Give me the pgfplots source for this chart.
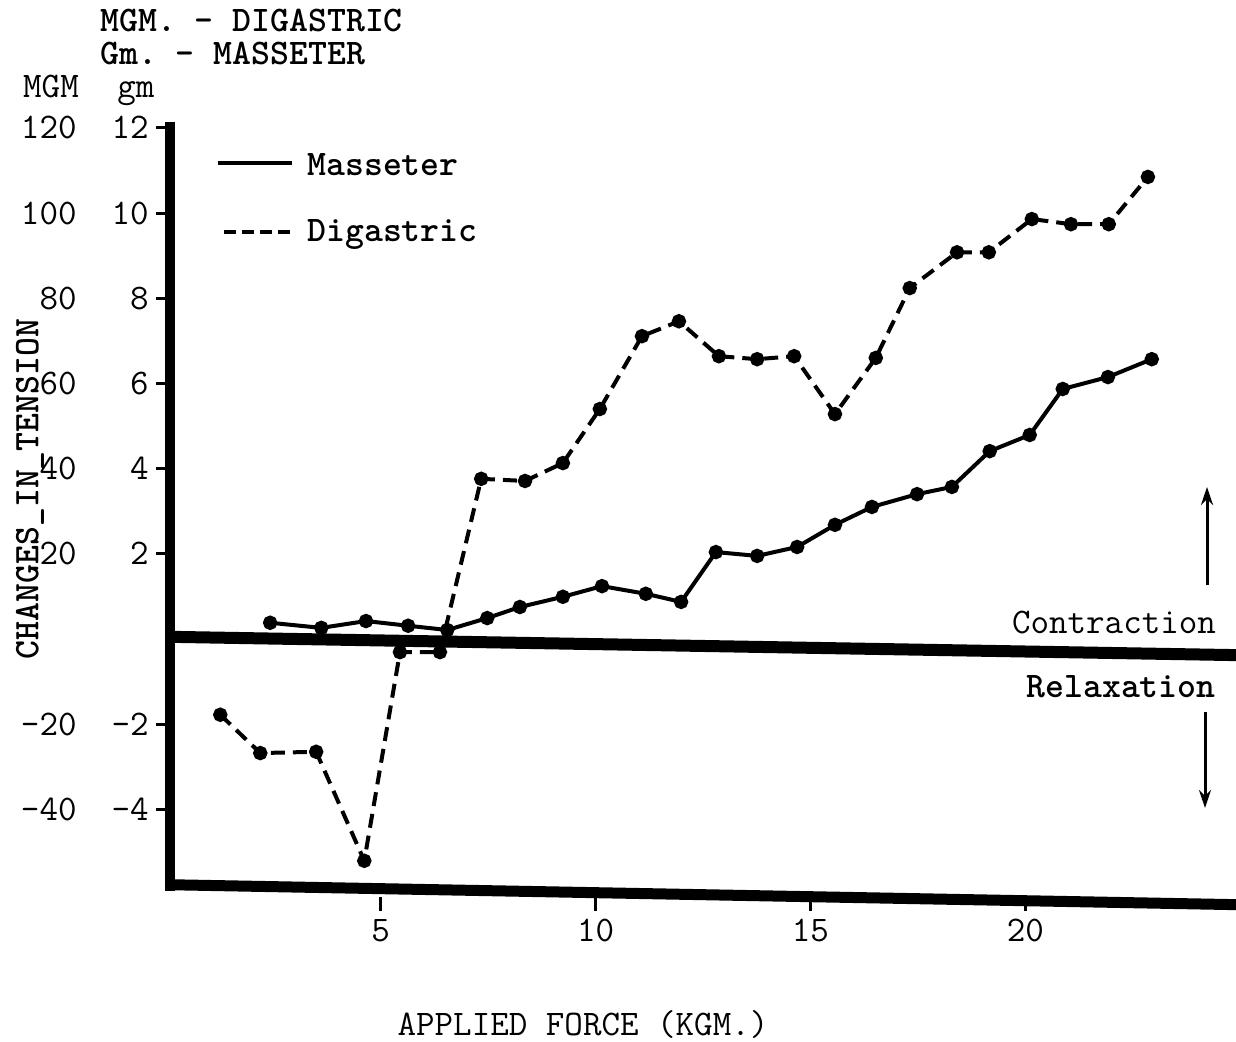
\documentclass[border=0pt]{standalone}
\usepackage{pgfplots}
\pgfplotsset{compat=1.18}
\usetikzlibrary{arrows.meta}
\newcommand{\yl}[2]{\makebox[0pt][r]{#1\hspace{36pt}}\makebox[0pt][r]{#2}}
\begin{document}
\frenchspacing
\fontsize{18pt}{21pt}\ttfamily\selectfont
\begin{tikzpicture}
\useasboundingbox (-85pt,-72.5pt) rectangle (533pt,448.5pt);
\begin{axis}[
  at={(0pt,0pt)}, anchor=south west,
  scale only axis, width=533pt, height=387.5pt,
  xmin=0.1, xmax=24.9, ymin=-6.06, ymax=12.14,
  clip=false,
  axis lines=left, axis line style={draw=none,-},
  tick align=outside,
  major tick length=7pt,
  every tick/.style={black, line width=1.5pt},
  xtick={5,10,15,20}, xticklabels={5,10,15,20},
  ytick={-4,-2,2,4,6,8,10,12},
  yticklabels={\yl{-40}{-4},\yl{-20}{-2},\yl{20}{2},\yl{40}{4},\yl{60}{6},\yl{80}{8},\yl{100}{10},\yl{120}{12}},
  yticklabel style={anchor=east, inner sep=0pt, xshift=-3pt},
  xticklabel style={anchor=north, inner sep=0pt, yshift=-4pt},
  /pgf/number format/assume math mode=true,
]
\addplot[black, line width=2pt, mark=*, mark size=2.6pt, mark options={solid}] coordinates {
(2.43,0.38) (3.62,0.26) (4.66,0.42) (5.64,0.31) (6.55,0.21) (7.48,0.49)
(8.24,0.75) (9.24,0.99) (10.15,1.24) (11.17,1.06) (11.99,0.87) (12.80,2.04)
(13.76,1.95) (14.69,2.16) (15.57,2.68) (16.43,3.10) (17.48,3.40) (18.29,3.57)
(19.17,4.41) (20.10,4.79) (20.87,5.87) (21.92,6.15) (22.94,6.57)
};
\addplot[black, line width=2pt, dash pattern=on 7pt off 4pt, mark=*, mark size=2.6pt, mark options={solid}] coordinates {
(1.27,-1.78) (2.20,-2.68) (3.50,-2.65) (4.62,-5.21) (5.45,-0.31) (6.38,-0.31)
(7.34,3.76) (8.36,3.71) (9.24,4.13) (10.10,5.40) (11.08,7.11) (11.94,7.46)
(12.87,6.64) (13.76,6.57) (14.62,6.64) (15.57,5.28) (16.52,6.60) (17.31,8.24)
(18.41,9.08) (19.15,9.08) (20.15,9.86) (21.06,9.74) (21.94,9.74) (22.85,10.85)
};
\draw[line width=5pt] (axis cs:0.1,12.14) -- (axis cs:0.1,-5.92);
\draw[line width=6pt] (axis cs:0.1,0.05) -- (axis cs:24.9,-0.38);
\draw[line width=5.5pt] (axis cs:0.0,-5.77) -- (axis cs:24.9,-6.24);
\end{axis}
\node[anchor=base west, inner sep=0pt, font=\bfseries] at (-35pt,432.5pt) {MGM. - DIGASTRIC};
\node[anchor=base west, inner sep=0pt, font=\bfseries] at (-35pt,416pt) {Gm. - MASSETER};
\node[anchor=base, inner sep=0pt] at (-59.5pt,399.5pt) {MGM};
\node[anchor=base, inner sep=0pt] at (-17pt,399.5pt) {gm};
\draw[line width=2pt] (24pt,367pt) -- (61pt,367pt);
\node[anchor=west, inner sep=0pt, font=\bfseries] at (68.5pt,366pt) {Masseter};
\draw[line width=2pt, dash pattern=on 6pt off 3pt] (27pt,332.5pt) -- (61pt,332.5pt);
\node[anchor=west, inner sep=0pt, font=\bfseries] at (68.5pt,331pt) {Digastric};
\node at (472pt,137pt) {Contraction};
\node[font=\bfseries] at (475.5pt,105pt) {Relaxation};
\draw[line width=1.5pt, -{Stealth[length=9pt,width=6pt]}] (518.5pt,156pt) -- (518.5pt,205pt);
\draw[line width=1.5pt, -{Stealth[length=9pt,width=6pt]}] (517.5pt,92.5pt) -- (517.5pt,44.5pt);
\node at (206.5pt,-64pt) {APPLIED FORCE (KGM.)};
\node[rotate=90, font=\bfseries] at (-70pt,204pt) {CHANGES\_IN\_TENSION};
\end{tikzpicture}
\end{document}
